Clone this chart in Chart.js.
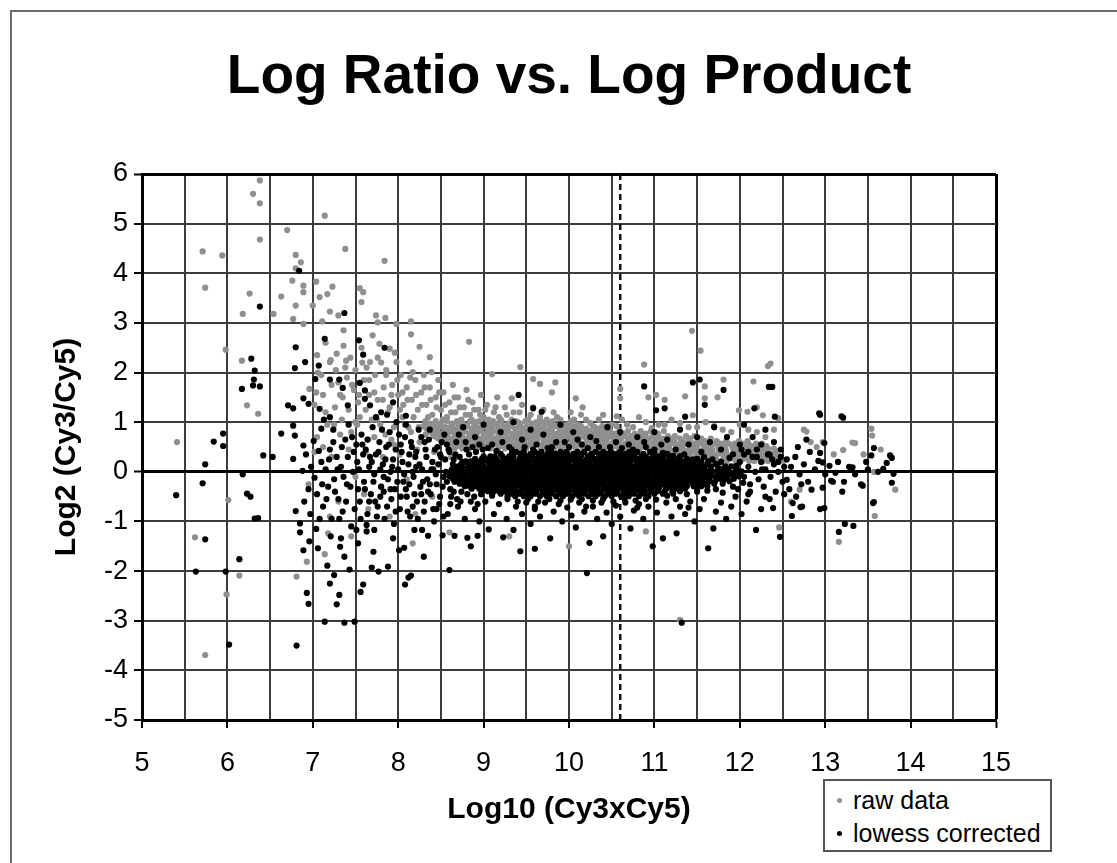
<!doctype html>
<html lang="en">
<head>
<meta charset="utf-8">
<title>Log Ratio vs. Log Product</title>
<script src="https://cdn.jsdelivr.net/npm/chart.js"></script>
<style>
  html, body { margin: 0; padding: 0; background: #fff; overflow: hidden; }
  #wrap { position: relative; width: 1117px; height: 863px; overflow: hidden; }
  #frame { position: absolute; left: 10px; top: 10px; width: 1300px; height: 1000px; border-left: 2px solid #6e6e6e; border-top: 2px solid #6e6e6e; }
  #chart { position: absolute; left: 0; top: 0; }
  #legend { position: absolute; left: 823px; top: 779px; width: 225px; height: 69px; border: 2px solid #555; background: #fff; font: 25px "Liberation Sans", Arial, sans-serif; color: #000; }
  .item { position: absolute; left: 0; height: 30px; line-height: 30px; white-space: nowrap; }
  .dot { position: absolute; left: 12px; top: 13px; width: 5px; height: 5px; border-radius: 50%; }
  .lbl { position: absolute; left: 28px; }
</style>
</head>
<body>
<div id="wrap">
  <div id="frame"></div>
  <canvas id="chart" width="1117" height="863"></canvas>
  <div id="legend">
    <div class="item" style="top:4px"><span class="dot" style="background:#8f8f8f"></span><span class="lbl">raw data</span></div>
    <div class="item" style="top:37px"><span class="dot" style="background:#000"></span><span class="lbl">lowess corrected</span></div>
  </div>
</div>
<script>
const FONT = '"Liberation Sans", Arial, sans-serif';

// vertical dashed marker (Log10 product)
const cutoffX = 10.6;

// raw data, scattered points [x, y]
const rawScatter = [
  [5.41,0.60],[5.71,4.44],[5.74,3.71],[5.94,4.36],[5.98,2.46],[6.01,-0.57],[5.62,-1.32],[6.14,-2.09],[5.99,-2.47],[5.74,-3.69],
  [6.38,5.87],[6.30,5.60],[6.38,5.41],[6.38,4.68],[6.26,3.59],[6.17,2.24],[6.23,1.34],[6.36,1.17],[6.18,3.18],[6.54,3.18],
  [6.63,3.53],[6.70,4.87],[6.80,4.37],[6.86,4.22],[6.80,4.10],[6.76,3.85],[6.89,3.75],[6.89,3.62],[6.80,3.35],[6.77,3.08],
  [6.89,2.98],[7.14,5.16],[7.38,4.49],[7.84,4.25],[7.04,3.83],[7.23,3.73],[7.08,3.52],[7.17,3.58],[7.00,3.35],[7.20,3.23],
  [7.55,3.70],[7.59,3.62],[7.57,3.42],[7.11,3.03],[7.30,3.15],[7.74,3.15],[7.85,3.10],[7.76,3.01],[7.98,2.98],[8.15,3.03],
  [8.15,2.77],[8.83,2.62],[8.25,2.52],[8.37,2.31],[7.36,2.54],[7.28,2.38],[7.20,2.21],[7.39,2.24],[7.78,2.58],[7.90,2.48],
  [7.98,2.21],[7.67,2.21],[8.17,2.01],[8.39,2.01],[6.96,1.67],[7.04,1.60],[7.02,0.40],[6.81,-2.11],[6.93,-1.81],[7.14,-1.66],
  [7.18,-1.24],[8.17,-1.44],[8.60,-1.22],
  [7.05,2.35],[7.10,1.95],[7.15,2.60],[7.22,1.75],[7.27,2.05],[7.32,1.55],[7.36,2.85],[7.40,1.90],[7.44,2.30],[7.48,1.65],
  [7.50,2.05],[7.53,1.40],[7.57,2.50],[7.60,1.85],[7.63,2.10],[7.66,1.55],[7.70,2.75],[7.73,1.95],[7.76,1.45],[7.80,2.20],
  [7.83,1.70],[7.86,1.95],[7.90,1.30],[7.93,1.75],[7.96,2.40],[8.00,1.55],[8.03,1.95],[8.06,1.35],[8.10,1.70],[8.13,2.20],
  [8.16,1.45],[8.20,1.85],[8.23,1.25],[8.27,1.60],[8.30,1.95],[8.33,1.35],[8.37,1.70],[8.40,1.15],[8.44,1.50],[8.47,1.85],
  [8.50,1.25],[8.53,1.60],[8.57,1.10],[8.60,1.40],[8.64,1.75],[8.67,1.20],[8.70,1.50],[8.74,1.05],[8.77,1.30],[8.80,1.65],
  [8.84,1.15],[8.87,1.40],[8.90,1.00],[8.94,1.25],[8.97,1.55],[9.00,1.10],[9.04,1.35],[9.08,0.95],[9.12,1.20],[9.16,1.50],
  [9.20,1.05],[9.25,1.30],[9.30,0.95],[9.35,1.20],[9.40,1.00],[9.45,1.35],[9.50,0.90],[9.55,1.15],[9.62,1.00],[9.70,1.25],
  [9.78,0.95],[9.86,1.10],[9.94,0.90],[10.02,1.20],[10.10,0.95],[10.20,1.05],[10.30,0.90],[10.40,1.15],[10.50,0.95],[10.62,1.05],
  [10.75,0.90],[10.90,1.00],[11.05,0.95],[11.20,1.05],[11.40,0.90],[11.60,1.00],[11.80,0.85],[12.00,0.95],[12.20,0.80],[12.40,0.85],
  [7.05,0.70],[7.15,1.20],[7.25,0.95],[7.35,1.50],[7.45,0.80],[7.55,1.10],[7.65,0.65],[7.75,1.05],[7.85,0.75],[7.95,0.55],
  [8.05,1.10],[8.15,0.80],[8.25,0.60],[8.35,0.95],[8.45,0.70],[8.55,0.90],[8.65,0.55],[8.75,0.80],[7.30,-0.60],[7.60,-0.45],
  [7.90,-0.90],[8.20,-0.85],[7.45,-1.30],[6.95,-0.25],
  [7.02,1.35],[7.06,2.00],[7.12,1.55],[7.17,0.95],[7.21,2.25],[7.26,1.30],[7.30,1.80],[7.34,1.05],[7.38,2.10],[7.42,1.25],
  [7.46,1.75],[7.50,1.00],[7.54,1.55],[7.58,2.20],[7.62,1.25],[7.66,1.85],[7.69,1.05],[7.72,1.60],[7.76,2.30],[7.79,0.95],
  [7.82,1.45],[7.86,2.05],[7.88,1.20],[7.92,1.55],[7.95,0.90],[7.99,1.85],[8.02,1.25],[8.05,1.60],[8.08,0.95],[8.11,1.45],
  [8.14,1.90],[8.18,1.10],[8.21,1.55],[8.24,0.90],[8.28,1.35],[8.31,1.70],[8.35,1.10],[8.38,1.45],[8.42,0.95],[8.45,1.30],
  [8.48,1.60],[8.52,1.05],[8.55,1.35],[8.58,0.85],[8.62,1.20],[8.66,1.50],[8.69,1.00],[8.72,1.30],[8.76,0.95],[8.79,1.15],
  [8.82,1.45],[8.86,1.05],[8.89,1.25],[8.93,0.90],[8.96,1.15],[9.02,1.25],[9.06,1.05],[9.14,1.30],[9.18,1.10],[9.27,1.15],
  [9.33,1.05],[9.42,1.20],[9.52,1.05],[9.58,1.30],[9.66,1.10],[9.74,1.05],[9.82,1.20],[9.90,1.05],[9.98,0.95],[10.06,1.05],
  [10.14,1.15],[10.25,0.98],[10.35,1.05],[10.45,0.92],[10.56,1.12],[10.68,0.95],[10.82,1.10],[10.97,0.88],[11.12,0.95],[11.30,0.98],
  [11.50,0.90],[11.70,0.92],[11.90,0.80],[12.10,0.85],[12.30,0.70],
  [7.12,0.50],[7.22,0.30],[7.32,0.75],[7.42,0.45],[7.52,0.95],[7.62,0.40],[7.72,0.70],[7.82,0.30],[7.92,0.65],[8.02,0.35],
  [8.12,0.90],[8.22,0.45],[8.32,0.75],[8.42,0.40],[8.52,0.65],[8.62,0.30],[8.72,0.55],[7.50,-0.10],[7.80,-0.30],[8.10,-0.15],
  [8.40,-0.50],[7.20,-0.90],[7.65,-0.75],
  [11.44,2.84],[11.54,2.44],[10.88,2.16],[12.33,2.13],[12.36,2.18],[9.43,2.11],[9.10,1.97],[9.58,1.87],[9.66,1.77],[9.84,1.80],
  [11.81,1.86],[12.16,1.82],[11.59,1.72],[9.80,1.60],[9.33,1.48],[10.08,1.48],[10.16,1.30],[10.60,1.67],[10.60,1.48],[10.93,1.50],
  [11.02,1.55],[11.12,1.45],[11.36,1.52],[11.74,1.50],[11.59,1.48],[11.45,1.14],[12.20,1.30],[11.99,1.24],[12.09,1.21],[12.27,1.14],
  [12.45,1.08],[12.75,0.85],[12.83,0.60],[12.97,0.60],[13.32,0.59],[13.54,0.87],[13.55,0.73],[13.35,0.58],[13.21,0.44],[12.78,0.81],
  [13.82,-0.36],[13.57,0.00],[13.58,-0.89],[13.16,-1.41],[12.70,-0.36],[12.46,-1.12],[12.60,-0.60],[13.45,0.35],[13.65,0.45],[13.10,0.35],
  [12.90,0.50],[11.30,-2.98],[9.30,-1.30],[10.00,-1.50],[10.90,-1.20]
];

// raw data, dense band above the corrected cloud: [y, [x...]]
const rawBandRows = [
  [1.02, [8.32,8.44,8.57,8.69,8.84,8.95,9.11,9.21,9.38,9.49,9.67,9.81,10.02]],
  [0.97, [8.38,8.50,8.63,8.76,8.89,9.02,9.16,9.29,9.43,9.57,9.73,9.90]],
  [0.92, [8.30,8.42,8.49,8.62,8.71,8.81,8.90,9.03,9.10,9.23,9.32,9.42,9.51,9.64,9.71,9.84,9.93,10.04,10.14,10.28,10.39,10.56]],
  [0.87, [8.33,8.46,8.58,8.66,8.76,8.86,8.97,9.07,9.17,9.28,9.37,9.47,9.58,9.68,9.78,9.89,9.99,10.10,10.20,10.34,10.47]],
  [0.82, [8.36,8.44,8.54,8.61,8.71,8.78,8.88,8.95,9.05,9.12,9.22,9.29,9.39,9.46,9.56,9.63,9.73,9.80,9.90,9.97,10.07,10.14,10.24,10.31,10.41,10.48,10.59,10.69,10.84,10.96,11.11]],
  [0.77, [8.40,8.49,8.58,8.66,8.75,8.83,8.92,9.01,9.09,9.18,9.26,9.35,9.43,9.52,9.60,9.69,9.77,9.86,9.94,10.03,10.11,10.20,10.28,10.37,10.45,10.54,10.64,10.77,10.90,11.04]],
  [0.72, [8.42,8.51,8.57,8.67,8.74,8.84,8.90,9.00,9.07,9.17,9.23,9.33,9.40,9.50,9.56,9.66,9.73,9.83,9.89,9.99,10.06,10.16,10.22,10.32,10.39,10.49,10.55,10.65,10.72,10.82,10.88,10.98,11.05,11.16,11.24,11.37,11.47]],
  [0.67, [8.47,8.55,8.63,8.71,8.80,8.88,8.96,9.04,9.13,9.21,9.29,9.37,9.46,9.54,9.62,9.70,9.79,9.87,9.95,10.03,10.12,10.20,10.28,10.36,10.45,10.53,10.61,10.69,10.78,10.86,10.94,11.02,11.11,11.20,11.30,11.42,11.55,11.66]],
  [0.62, [8.52,8.61,8.67,8.77,8.83,8.93,8.99,9.09,9.15,9.25,9.31,9.41,9.47,9.57,9.63,9.73,9.79,9.89,9.95,10.05,10.11,10.21,10.27,10.37,10.43,10.53,10.59,10.69,10.75,10.85,10.91,11.01,11.07,11.17,11.23,11.33,11.40,11.51,11.59,11.73,11.84,11.99,12.09]],
  [0.57, [8.57,8.65,8.74,8.81,8.90,8.97,9.06,9.15,9.22,9.31,9.38,9.47,9.54,9.63,9.70,9.79,9.86,9.95,10.02,10.11,10.18,10.27,10.34,10.43,10.50,10.59,10.66,10.75,10.82,10.91,10.98,11.07,11.14,11.23,11.30,11.39,11.46,11.55,11.62,11.71,11.78,11.87,11.94,12.03,12.10,12.19,12.26]],
  [0.52, [8.62,8.71,8.77,8.87,8.93,9.03,9.09,9.19,9.25,9.35,9.41,9.51,9.57,9.67,9.73,9.83,9.89,9.99,10.05,10.15,10.21,10.31,10.37,10.47,10.53,10.63,10.69,10.79,10.85,10.95,11.01,11.11,11.17,11.27,11.33,11.43,11.49,11.59,11.65,11.75,11.81,11.91,11.97,12.07,12.13,12.23,12.31]],
  [0.47, [8.66,8.75,8.83,8.92,9.00,9.08,9.17,9.25,9.33,9.42,9.50,9.58,9.67,9.75,9.83,9.92,10.00,10.08,10.17,10.25,10.33,10.42,10.50,10.58,10.67,10.75,10.83,10.92,11.00,11.08,11.17,11.25,11.33,11.42,11.50,11.58,11.67,11.75,11.83,11.92,12.00,12.08,12.17,12.25,12.33,12.40]],
  [0.42, [11.05,11.14,11.20,11.30,11.36,11.46,11.52,11.62,11.68,11.78,11.84,11.94,12.00,12.10,12.16,12.26,12.32,12.42]],
  [0.37, [11.25,11.34,11.42,11.50,11.59,11.67,11.75,11.84,11.92,12.00,12.09,12.17,12.25,12.34,12.42]],
  [0.32, [11.40,11.49,11.55,11.65,11.71,11.81,11.87,11.97,12.03,12.13,12.19,12.29,12.35,12.45]],
  [0.27, [11.55,11.64,11.72,11.81,11.89,11.98,12.06,12.15,12.23,12.32,12.40,12.48]],
  [0.22, [11.70,11.79,11.85,11.95,12.01,12.11,12.17,12.27,12.33,12.43,12.51]]
];

// lowess corrected, scattered points [x, y]
const lowessScatter = [
  [5.40,-0.47],[5.74,0.15],[5.71,-0.23],[5.74,-1.36],[5.63,-2.01],[5.95,0.77],[5.84,0.61],[5.95,0.52],[6.18,-0.05],[6.23,-0.44],
  [6.27,-0.50],[6.32,-0.94],[6.36,-0.93],[5.98,-2.01],[6.14,-1.76],[6.02,-3.48],[6.38,3.33],[6.28,2.28],[6.32,2.04],[6.17,1.67],
  [6.30,1.74],[6.38,1.72],[6.31,1.86],[6.42,0.33],[6.53,0.30],[6.63,0.77],
  [6.84,4.05],[6.80,2.51],[6.91,2.21],[7.07,2.14],[6.79,2.09],[7.14,2.68],[7.03,1.87],[7.20,1.86],[7.31,1.86],[7.35,1.69],
  [6.89,1.48],[6.71,1.34],[6.77,1.28],[6.95,1.37],[7.08,1.27],[7.20,1.10],[6.77,0.93],[6.79,0.73],[6.89,0.53],[6.77,0.26],
  [7.10,0.87],[7.24,0.60],[7.41,1.34],[7.37,3.20],
  [6.81,-3.50],[6.93,-2.44],[6.95,-2.66],[6.89,-1.58],[6.85,-1.22],[6.96,-1.40],[7.06,-1.54],[6.80,-0.79],[6.85,-1.04],[7.17,-1.89],
  [7.20,-2.25],[7.25,-2.08],[7.31,-2.48],[7.28,-2.67],[7.14,-3.02],[7.37,-3.04],[7.49,-3.02],[7.43,-1.97],[7.37,-1.71],[7.32,-1.51],
  [7.33,-1.34],
  [7.02,-0.12],[7.05,-0.45],[7.10,0.20],[7.12,-0.70],[7.15,0.05],[7.18,-0.30],[7.20,0.45],[7.22,-0.95],[7.25,-0.15],[7.28,0.30],
  [7.30,-0.55],[7.33,0.10],[7.35,-0.80],[7.38,0.65],[7.40,-0.25],[7.42,0.95],[7.45,-1.10],[7.47,0.00],[7.48,0.40],[6.98,0.10],
  [6.95,-0.35],[7.08,-0.95],[6.90,-0.60],[6.88,0.02],
  [7.56,-2.42],[7.59,-2.27],[7.71,-1.61],[7.69,-1.93],[7.77,-2.01],[7.88,-1.91],[8.01,-1.58],[8.07,-1.53],[8.12,-2.13],[8.08,-2.27],
  [8.15,-2.09],[8.30,-1.71],[8.60,-1.98],[7.94,-1.34],[8.66,-1.29],[8.81,-1.33],[8.93,-1.29],[8.52,-1.28],[8.35,-1.29],[8.28,-1.17],
  [8.19,-1.17],[7.72,-1.17],[7.63,-1.07],[7.51,-1.17],[7.53,-1.44],
  [7.54,2.65],[7.59,2.36],[7.84,2.50],[7.55,1.79],[7.61,1.64],[7.61,1.47],[7.67,1.34],[7.80,1.20],[7.94,1.40],[8.09,1.13],
  [7.52,0.20],[7.55,-0.60],[7.57,0.75],[7.60,-0.20],[7.62,0.45],[7.64,-0.85],[7.66,0.10],[7.68,-0.45],[7.70,0.90],[7.72,-0.05],
  [7.74,0.35],[7.76,-0.70],[7.78,0.60],[7.80,-0.30],[7.82,0.15],[7.84,-0.95],[7.86,0.50],[7.88,-0.15],[7.90,0.80],[7.92,-0.55],
  [7.94,0.25],[7.96,-0.35],[7.98,1.00],[8.00,0.05],[8.02,-0.75],[8.04,0.40],[8.06,-0.20],[8.08,0.70],[8.10,-0.50],[8.12,0.15],
  [8.14,-0.90],[8.16,0.50],[8.18,-0.10],[8.20,0.30],[8.22,-0.60],[8.24,0.85],[8.26,-0.30],[8.28,0.05],[8.30,-0.80],[8.32,0.45],
  [8.34,-0.15],[8.36,0.65],[8.38,-0.45],[8.40,0.20],[8.42,-1.00],[8.44,-0.05],[8.46,0.50],[8.48,-0.65],[8.50,0.30],[8.52,-0.30],
  [8.54,0.75],[8.56,0.00],[8.58,-0.85],[8.60,0.40],[8.62,-0.50],[8.64,0.15],[8.66,-0.20],[8.68,0.60],[8.70,-0.70],[8.72,0.30],
  [8.74,-0.40],[8.76,0.90],[8.78,-0.95],[8.80,0.45],
  [7.53,-0.35],[7.58,0.55],[7.63,-1.20],[7.67,0.30],[7.73,-0.60],[7.79,0.05],[7.83,-0.40],[7.87,1.15],[7.91,0.00],[7.97,-0.80],
  [8.03,0.55],[8.09,-0.35],[8.13,0.35],[8.17,-0.70],[8.21,0.10],[8.27,-0.45],[8.31,0.60],[8.37,-0.25],[8.41,0.05],[8.45,-0.75],
  [8.49,0.35],[8.53,-0.10],[8.57,0.55],[8.61,-0.35],[8.65,0.25],[8.69,-0.55],[8.73,0.00],[8.77,-0.25],[8.81,0.20],[8.85,-0.60],
  [6.92,0.35],[6.97,-0.85],[7.01,0.62],[7.04,-1.15],[7.07,0.42],[7.11,-0.25],[7.13,1.05],[7.16,-0.55],[7.19,0.25],[7.21,-1.30],
  [7.24,0.85],[7.26,-0.40],[7.29,0.05],[7.31,-0.95],[7.34,0.50],[7.36,-0.10],[7.39,-0.60],[7.41,0.30],[7.44,-0.30],[7.46,0.70],
  [7.49,-0.75],[7.51,0.55],[7.54,0.05],[7.56,-0.95],[7.59,0.35],[7.61,-0.35],[7.64,0.65],[7.66,-0.60],[7.69,0.20],[7.71,-0.20],
  [7.74,1.10],[7.75,-0.90],[7.77,0.40],[7.79,-0.50],[7.81,0.85],[7.83,-0.10],[7.85,0.25],[7.87,-0.70],[7.89,0.55],[7.91,-0.35],
  [7.93,0.10],[7.95,-1.05],[7.97,0.45],[7.99,-0.20],[8.01,0.75],[8.03,-0.50],[8.05,0.20],[8.07,-0.05],[8.09,0.95],[8.11,-0.80],
  [8.13,-0.25],[8.15,0.60],[8.17,0.00],[8.19,-0.45],[8.21,0.40],[8.23,-0.95],[8.25,0.15],[8.27,0.70],[8.29,-0.20],[8.31,-0.60],
  [8.33,0.30],[8.35,-0.40],[8.37,0.85],[8.39,0.05],[8.41,-0.75],[8.43,0.45],[8.45,-0.25],[8.47,0.15],[8.49,-0.50],[8.51,0.60],
  [8.53,-0.90],[8.55,0.25],[8.57,-0.20],[8.59,0.45],[8.61,-0.65],[8.63,0.05],[8.65,-0.40],[8.67,0.35],[8.69,-0.15],[8.71,0.75],
  [8.73,-0.60],[8.75,0.20],[8.77,-0.10],[8.79,0.60],[8.81,-0.45],[8.83,0.35],[8.85,-0.30],[8.87,0.50],[8.89,-0.50],[8.91,0.40],
  [8.93,-0.65],[8.95,0.55],[8.97,-0.45],[8.99,0.45],
  [9.41,1.55],[9.58,1.28],[9.68,1.21],[10.88,1.72],[11.53,1.86],[11.45,1.80],[11.81,1.65],[11.02,1.24],[11.12,1.28],[11.36,1.11],
  [11.59,1.35],[12.17,1.28],[12.41,1.11],[12.34,1.71],[12.38,1.71],[12.94,1.15],[13.21,1.09],
  [8.90,0.70],[9.00,0.95],[9.10,0.55],[9.20,0.80],[9.30,0.50],[9.35,1.00],[9.45,0.65],[9.55,0.85],[9.62,0.55],[9.70,0.75],
  [9.80,0.50],[9.90,0.95],[9.95,0.60],[10.05,0.80],[10.15,0.55],[10.25,0.70],[10.35,0.50],[10.45,0.90],[10.55,0.60],[10.60,0.80],
  [10.70,0.55],[10.80,0.70],[10.90,0.50],[11.00,0.80],[11.08,0.55],[11.15,0.65],[11.25,0.45],[11.30,0.85],[11.40,0.55],[11.50,0.70],
  [11.55,0.40],[11.65,0.60],[11.70,0.90],[11.78,0.45],[11.85,0.70],[11.92,0.35],[12.00,0.55],[12.05,0.95],[12.10,0.40],[12.15,0.70],
  [12.20,0.30],[12.25,0.55],[12.30,0.85],[12.35,0.35],[12.40,0.60],[12.45,0.20],[12.48,0.45],
  [9.05,0.48],[9.15,0.42],[9.22,0.60],[9.28,-0.55],[9.33,0.45],[9.40,-0.60],[9.48,0.50],[9.52,-0.55],[9.58,0.45],[9.64,-0.60],
  [9.75,0.48],[9.77,-0.55],[9.85,0.60],[9.90,-0.58],[10.00,0.50],[10.02,-0.56],[10.10,0.65],[10.15,-0.55],[10.22,0.48],[10.28,-0.58],
  [10.32,0.62],[10.40,-0.55],[10.48,0.50],[10.52,-0.60],[10.62,0.48],[10.65,-0.55],[10.75,0.45],[10.78,-0.58],[10.88,0.60],[10.90,-0.55],
  [11.00,0.45],[11.02,-0.56],[11.10,0.38],[11.15,-0.48],[11.22,0.32],[11.25,-0.55],[11.35,0.35],[11.38,-0.45],[11.45,0.25],[11.50,-0.40],
  [11.58,0.30],[11.62,-0.38],[11.68,0.25],[11.72,-0.35],[11.78,0.20],[11.80,-0.42],[11.88,0.28],[11.92,-0.30],[11.96,0.12],[12.04,-0.22],
  [9.60,-0.70],[10.20,-0.70],[10.80,-0.72],[11.40,-0.72],[9.10,-0.48],[8.95,-0.30],
  [8.90,-0.75],[8.95,-1.00],[9.02,-0.60],[9.06,-1.16],[9.12,-0.85],[9.18,-0.65],[9.23,-1.32],[9.27,-0.95],[9.35,-1.17],[9.38,-0.70],
  [9.45,-0.85],[9.50,-0.62],[9.55,-1.05],[9.60,-0.75],[9.66,-0.90],[9.72,-0.62],[9.78,-1.34],[9.82,-0.80],[9.88,-0.65],[9.92,-1.00],
  [9.98,-0.72],[10.03,-0.88],[10.08,-1.12],[10.12,-0.62],[10.18,-0.80],[10.24,-1.43],[10.28,-0.70],[10.33,-0.95],[10.38,-0.62],[10.44,-0.82],
  [10.50,-1.05],[10.55,-0.68],[10.60,-0.90],[10.66,-0.62],[10.72,-1.14],[10.76,-0.78],[10.82,-0.65],[10.87,-0.95],[10.93,-0.70],[10.98,-1.50],
  [11.03,-0.82],[11.10,-1.34],[11.14,-0.62],[11.20,-0.90],[11.26,-1.24],[11.30,-0.70],[11.36,-0.85],[11.42,-0.60],[11.47,-1.00],[11.53,-0.75],
  [11.58,-0.55],[11.63,-1.54],[11.69,-1.14],[11.72,-0.80],[11.78,-0.62],[11.84,-0.95],[11.90,-0.70],[11.95,-0.50],[12.02,-0.85],[12.08,-0.60],
  [12.12,-0.40],[12.19,-1.17],[12.25,-0.75],[12.30,-0.50],[12.39,-0.73],[12.47,-1.31],[12.52,-0.45],[12.61,-0.89],[12.62,-0.63],[12.71,-0.71],
  [12.73,-0.70],[10.21,-2.04],[11.32,-3.04],[9.43,-1.60],[9.60,-1.55],[10.40,-1.30],[8.85,-1.50],
  [12.93,1.18],[13.19,1.12],[13.57,0.48],[13.48,0.20],[13.72,0.18],[13.78,0.28],[13.68,0.06],[13.80,-0.04],[13.78,-0.22],[13.56,-0.63],
  [13.23,-1.05],[13.33,-1.09],[13.16,-1.21],[13.44,-0.28],[13.22,-0.20],[13.20,-0.40],[13.09,-0.20],[13.15,0.20],[12.99,0.58],[12.94,0.38],
  [12.82,0.40],[12.78,0.65],[12.97,-0.32],[12.94,-0.75],[12.99,-0.73],[12.84,-0.36],[12.55,-0.16],[12.60,0.10],[12.65,0.30],[12.70,-0.05],
  [12.75,0.15],[12.80,-0.20],[12.88,0.05],[12.92,0.22],[13.00,-0.05],[13.05,0.12],[13.12,-0.02],[13.28,0.10],[13.35,-0.05],[13.42,-0.25],
  [13.50,0.05],[13.54,0.33],[13.62,0.00],[13.76,0.33],[13.57,-0.61],[13.32,0.09],[13.07,-0.18],[12.97,0.19],[12.55,0.25],[12.58,-0.35],
  [12.66,-0.50],[12.68,0.50],[12.72,-0.25],
  [12.00,0.20],[12.05,-0.10],[12.10,0.10],[12.12,-0.25],[12.15,0.30],[12.18,0.00],[12.22,-0.15],[12.25,0.20],[12.28,-0.30],[12.30,0.05],
  [12.33,0.35],[12.36,-0.10],[12.40,0.15],[12.42,-0.40],[12.45,0.00],[12.48,0.30],[12.50,-0.20],[12.52,0.10],[12.05,0.35],[12.20,0.45],
  [12.35,-0.55],[12.10,-0.45],[11.98,-0.35],[12.02,0.45],[12.26,0.05],[12.38,0.25]
];

// lowess corrected, solid core of the cloud: [y, [x...]]
const lowessCoreRows = [
  [0.40, [9.38,9.47,9.60,9.68,9.79,9.90,9.97,10.10,10.18,10.31,10.40,10.49,10.60,10.71,10.80,10.95]],
  [0.36, [9.20,9.33,9.43,9.55,9.64,9.75,9.84,9.95,10.05,10.15,10.26,10.35,10.45,10.55,10.66,10.76,10.87,11.00,11.15]],
  [0.31, [9.00,9.08,9.13,9.22,9.30,9.35,9.45,9.51,9.57,9.66,9.72,9.80,9.86,9.93,10.00,10.08,10.14,10.22,10.27,10.36,10.41,10.50,10.56,10.63,10.71,10.77,10.85,10.90,10.98,11.06,11.11,11.20,11.30]],
  [0.26, [8.90,8.98,9.06,9.15,9.26,9.33,9.42,9.50,9.62,9.69,9.78,9.87,9.97,10.04,10.12,10.21,10.30,10.39,10.47,10.58,10.65,10.74,10.82,10.92,11.01,11.10,11.18,11.28,11.38,11.50]],
  [0.21, [8.79,8.85,8.93,8.99,9.05,9.10,9.17,9.23,9.28,9.35,9.41,9.46,9.53,9.59,9.64,9.71,9.77,9.82,9.89,9.95,10.00,10.07,10.13,10.18,10.25,10.31,10.36,10.43,10.49,10.54,10.61,10.67,10.72,10.79,10.85,10.90,10.97,11.03,11.08,11.15,11.21,11.26,11.33,11.39,11.46,11.55,11.63]],
  [0.16, [8.74,8.82,8.90,8.97,9.07,9.14,9.21,9.30,9.38,9.45,9.51,9.61,9.69,9.75,9.85,9.92,9.99,10.10,10.16,10.23,10.34,10.41,10.47,10.58,10.65,10.71,10.82,10.89,10.95,11.06,11.13,11.19,11.30,11.37,11.44,11.53,11.62,11.72]],
  [0.11, [8.70,8.75,8.83,8.88,8.95,9.00,9.07,9.12,9.19,9.24,9.31,9.36,9.43,9.48,9.55,9.60,9.67,9.72,9.79,9.84,9.91,9.96,10.03,10.08,10.15,10.20,10.27,10.32,10.39,10.44,10.51,10.56,10.63,10.68,10.75,10.80,10.87,10.92,10.99,11.04,11.11,11.16,11.23,11.28,11.35,11.40,11.47,11.52,11.59,11.66,11.74,11.83,11.90]],
  [0.06, [8.66,8.72,8.81,8.87,8.94,9.03,9.10,9.18,9.26,9.34,9.41,9.50,9.58,9.66,9.74,9.83,9.90,9.98,10.06,10.14,10.22,10.31,10.38,10.46,10.54,10.62,10.70,10.79,10.86,10.94,11.02,11.10,11.18,11.27,11.34,11.42,11.50,11.58,11.66,11.77,11.86,11.96]],
  [0.01, [8.62,8.68,8.74,8.80,8.85,8.92,8.97,9.04,9.09,9.16,9.21,9.28,9.33,9.40,9.45,9.52,9.57,9.64,9.69,9.76,9.81,9.88,9.93,10.00,10.05,10.12,10.17,10.24,10.29,10.36,10.41,10.48,10.53,10.60,10.65,10.72,10.77,10.84,10.89,10.96,11.01,11.08,11.13,11.20,11.25,11.32,11.37,11.44,11.49,11.56,11.61,11.68,11.74,11.81,11.87,11.95,12.02]],
  [-0.04, [8.63,8.70,8.78,8.87,8.94,9.01,9.11,9.18,9.25,9.35,9.42,9.49,9.59,9.66,9.73,9.83,9.90,9.97,10.07,10.14,10.21,10.31,10.38,10.45,10.55,10.62,10.69,10.79,10.86,10.93,11.03,11.10,11.17,11.27,11.34,11.41,11.51,11.58,11.65,11.76,11.84,11.92,12.00]],
  [-0.09, [8.60,8.66,8.72,8.77,8.84,8.90,8.95,9.02,9.07,9.14,9.19,9.26,9.31,9.38,9.43,9.50,9.55,9.62,9.67,9.74,9.79,9.86,9.91,9.98,10.03,10.10,10.15,10.22,10.27,10.34,10.39,10.46,10.51,10.58,10.63,10.70,10.75,10.82,10.87,10.94,10.99,11.06,11.11,11.18,11.23,11.30,11.35,11.42,11.47,11.54,11.59,11.66,11.72,11.79,11.86,11.93,11.99]],
  [-0.14, [8.64,8.70,8.78,8.88,8.93,9.00,9.09,9.17,9.24,9.33,9.41,9.48,9.57,9.65,9.72,9.81,9.89,9.96,10.05,10.13,10.20,10.29,10.37,10.44,10.53,10.61,10.68,10.77,10.85,10.92,11.01,11.09,11.16,11.25,11.33,11.40,11.49,11.57,11.64,11.74,11.83,11.93]],
  [-0.19, [8.68,8.73,8.80,8.86,8.91,8.98,9.03,9.10,9.15,9.22,9.27,9.34,9.39,9.46,9.51,9.58,9.63,9.70,9.75,9.82,9.87,9.94,9.99,10.06,10.11,10.18,10.23,10.30,10.35,10.42,10.47,10.54,10.59,10.66,10.71,10.78,10.83,10.90,10.95,11.02,11.07,11.14,11.19,11.26,11.31,11.38,11.43,11.50,11.56,11.64,11.71,11.80,11.88]],
  [-0.24, [8.72,8.81,8.88,8.95,9.05,9.12,9.19,9.29,9.36,9.43,9.53,9.60,9.67,9.77,9.84,9.91,10.01,10.08,10.15,10.25,10.32,10.39,10.49,10.56,10.63,10.73,10.80,10.87,10.97,11.04,11.11,11.21,11.28,11.35,11.45,11.52,11.60,11.70,11.80]],
  [-0.29, [8.78,8.84,8.90,8.97,9.02,9.09,9.14,9.21,9.26,9.33,9.38,9.45,9.50,9.57,9.62,9.69,9.74,9.81,9.86,9.93,9.98,10.05,10.10,10.17,10.22,10.29,10.34,10.41,10.46,10.53,10.58,10.65,10.70,10.77,10.82,10.89,10.94,11.01,11.06,11.13,11.18,11.25,11.31,11.38,11.46,11.55,11.62]],
  [-0.34, [8.86,8.95,9.03,9.11,9.20,9.27,9.35,9.45,9.52,9.59,9.68,9.77,9.84,9.91,10.00,10.09,10.16,10.23,10.32,10.41,10.48,10.55,10.64,10.73,10.80,10.87,10.96,11.05,11.14,11.24,11.36,11.50]],
  [-0.39, [8.98,9.05,9.12,9.18,9.25,9.30,9.37,9.43,9.50,9.56,9.62,9.69,9.75,9.81,9.88,9.94,10.00,10.07,10.13,10.19,10.26,10.32,10.38,10.45,10.51,10.57,10.64,10.70,10.76,10.83,10.89,10.96,11.04,11.12,11.21,11.30]],
  [-0.44, [9.10,9.20,9.32,9.42,9.50,9.61,9.70,9.79,9.90,9.98,10.08,10.18,10.27,10.36,10.46,10.55,10.65,10.76,10.88,11.00,11.10,11.22]],
  [-0.49, [9.28,9.37,9.47,9.55,9.66,9.74,9.85,9.93,10.04,10.12,10.23,10.31,10.42,10.50,10.61,10.70,10.82,10.93]]
];

function toPoints(pairs, rows) {
  const pts = pairs.map(p => ({ x: p[0], y: p[1] }));
  rows.forEach(r => r[1].forEach(x => pts.push({ x: x, y: r[0] })));
  return pts;
}

const rawData = toPoints(rawScatter, rawBandRows);
const lowessData = toPoints(lowessScatter, lowessCoreRows);

const ctx = document.getElementById('chart');
new Chart(ctx, {
  type: 'scatter',
  data: {
    datasets: [
      { label: 'lowess corrected', data: lowessData, backgroundColor: '#000', pointRadius: 3.1, borderWidth: 0, order: 1 },
      { label: 'raw data', data: rawData, backgroundColor: '#8f8f8f', pointRadius: 3.1, borderWidth: 0, order: 2 },
      { type: 'line', label: 'marker', data: [{ x: cutoffX, y: -5 }, { x: cutoffX, y: 6 }],
        borderColor: '#111', borderWidth: 2.5, borderDash: [6, 4], pointRadius: 0, fill: false, order: 3 }
    ]
  },
  options: {
    responsive: false,
    animation: false,
    events: [],
    layout: { padding: { left: 0, top: 0, right: 121, bottom: 0 } },
    plugins: {
      legend: { display: false },
      tooltip: { enabled: false },
      title: {
        display: true,
        text: 'Log Ratio vs. Log Product',
        fullSize: false,
        color: '#000',
        font: { family: FONT, size: 55, weight: 'bold' },
        padding: { top: 45, bottom: 63 }
      }
    },
    scales: {
      x: {
        type: 'linear',
        min: 5,
        max: 15,
        afterFit: s => { s.height = 143; },
        border: { display: true, color: '#000', width: 3 },
        grid: {
          color: c => (c.tick && c.tick.value === 15) ? '#000' : '#3c3c3c',
          lineWidth: c => (c.tick && c.tick.value === 15) ? 3 : 2,
          tickLength: 8,
          tickWidth: 2,
          tickColor: c => (c.tick && Number.isInteger(c.tick.value)) ? '#000' : 'rgba(0,0,0,0)'
        },
        ticks: {
          stepSize: 0.5,
          autoSkip: false,
          maxRotation: 0,
          color: '#000',
          padding: 19,
          font: { family: FONT, size: 27 },
          callback: v => Number.isInteger(v) ? String(v) : ''
        },
        title: {
          display: true,
          text: 'Log10 (Cy3xCy5)',
          color: '#000',
          font: { family: FONT, size: 30, weight: 'bold' },
          padding: { top: 0, bottom: 35 }
        }
      },
      y: {
        min: -5,
        max: 6,
        afterFit: s => { s.width = 142; },
        border: { display: true, color: '#000', width: 3 },
        grid: {
          color: c => (c.tick && (c.tick.value === 0 || c.tick.value === 6)) ? '#000' : '#3c3c3c',
          lineWidth: c => (c.tick && (c.tick.value === 0 || c.tick.value === 6)) ? 3 : 2,
          tickLength: 8,
          tickWidth: 2,
          tickColor: '#000'
        },
        ticks: {
          stepSize: 1,
          color: '#000',
          padding: 6,
          font: { family: FONT, size: 27 }
        },
        title: {
          display: true,
          text: 'Log2 (Cy3/Cy5)',
          color: '#000',
          font: { family: FONT, size: 30, weight: 'bold' },
          padding: { top: 49, bottom: 0 }
        }
      }
    }
  }
});
</script>
</body>
</html>
